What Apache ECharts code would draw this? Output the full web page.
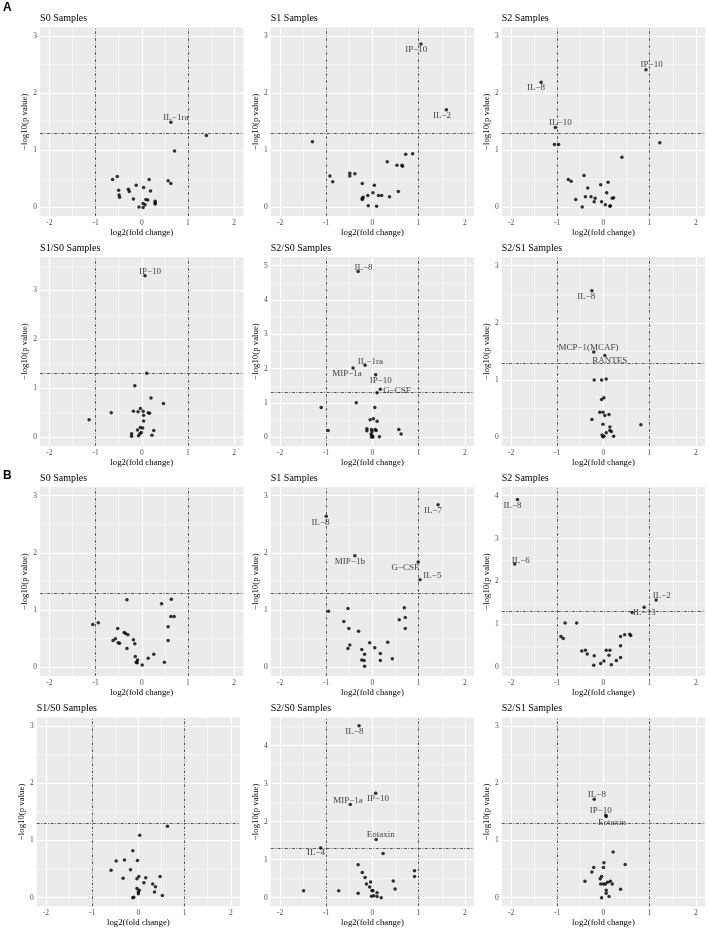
<!DOCTYPE html>
<html><head><meta charset="utf-8">
<script src="https://cdn.jsdelivr.net/npm/echarts@6/dist/echarts.min.js"></script>
<style>html,body{margin:0;padding:0;background:#fff}#c{width:709px;height:928px}</style>
</head><body><div id="c"></div>
<script>
// ---------------- data ----------------
const xTicks = [-2, -1, 0, 1, 2];
const yTicks3 = [0, 1, 2, 3];
const yTicks4 = [0, 1, 2, 3, 4];
const yTicks5 = [0, 1, 2, 3, 4, 5];
const pCut = 1.3;          // -log10(0.05)
const foldCuts = [-1, 1];

const panelTitles = ['S0 Samples','S1 Samples','S2 Samples','S1/S0 Samples','S2/S0 Samples','S2/S1 Samples',
                     'S0 Samples','S1 Samples','S2 Samples','S1/S0 Samples','S2/S0 Samples','S2/S1 Samples'];

// [log2(fold change), -log10(p value), label]
const A_S0 = [[0.63,1.49,'IL−1ra'],[1.40,1.26],[0.71,0.99],[-0.53,0.54],[-0.63,0.49],[0.16,0.49],[0.57,0.47],[0.63,0.42],[-0.12,0.39],[0.04,0.35],[-0.50,0.30],[-0.29,0.32],[-0.27,0.28],[0.19,0.29],[-0.49,0.22],[-0.48,0.18],[-0.18,0.15],[0.09,0.14],[0.13,0.13],[0.29,0.11],[0.29,0.08],[0.29,0.06],[0.03,0.07],[0.07,0.05],[-0.06,0.01],[0.03,0.00]];
const A_S1 = [[1.05,2.86,'IP−10'],[1.60,1.71,'IL−2'],[-1.30,1.15],[0.72,0.93],[0.87,0.94],[0.32,0.80],[0.53,0.74],[0.64,0.74],[0.65,0.72],[-0.92,0.55],[-0.86,0.45],[-0.49,0.60],[-0.49,0.55],[-0.38,0.59],[-0.22,0.42],[0.04,0.39],[0.56,0.28],[0.01,0.26],[-0.10,0.21],[0.13,0.21],[0.20,0.21],[0.37,0.19],[-0.20,0.18],[-0.22,0.16],[-0.22,0.14],[-0.09,0.03],[0.09,0.02]];
const A_S2 = [[0.92,2.41,'IP−10'],[-1.35,2.19,'IL−8'],[-1.04,1.40,'IL−10'],[-1.06,1.10],[-0.97,1.10],[1.22,1.13],[0.40,0.88],[-0.42,0.56],[-0.76,0.49],[-0.70,0.46],[0.10,0.44],[-0.06,0.40],[-0.34,0.34],[0.07,0.26],[-0.39,0.19],[-0.27,0.19],[-0.18,0.16],[0.22,0.17],[0.19,0.16],[-0.60,0.14],[-0.20,0.10],[-0.04,0.10],[0.04,0.05],[0.15,0.03],[0.14,0.02],[-0.46,0.01]];
const A_S1S0 = [[0.07,3.30,'IP−10'],[0.11,1.31],[-0.15,1.05],[0.20,0.80],[0.47,0.69],[-0.66,0.50],[-0.18,0.53],[-0.08,0.52],[-0.03,0.59],[0.03,0.53],[0.04,0.45],[0.14,0.50],[0.17,0.49],[-1.14,0.36],[0.04,0.33],[-0.03,0.20],[0.02,0.19],[0.26,0.14],[-0.09,0.15],[-0.22,0.07],[-0.22,0.02],[-0.04,0.07],[-0.01,0.10],[-0.07,0.03],[0.22,0.04]];
const A_S2S0 = [[-0.31,4.83,'IL−8'],[-0.16,2.10,'IL−1ra'],[-0.42,2.02,'MIP−1a'],[0.07,1.82,'IP−10'],[0.17,1.40,'G−CSF'],[0.10,1.30],[-0.35,1.01],[-1.11,0.87],[0.05,0.87],[-0.05,0.51],[0.02,0.54],[0.10,0.47],[-0.96,0.20],[-0.12,0.25],[-0.12,0.19],[-0.02,0.23],[-0.01,0.17],[0.06,0.23],[0.08,0.20],[0.57,0.23],[0.62,0.10],[-0.03,0.10],[-0.01,0.05],[0.01,0.01],[0.15,0.02],[-0.02,0.01]];
const A_S2S1 = [[-0.25,2.56,'IL−8'],[-0.21,1.49,'MCP−1(MCAF)'],[0.03,1.43,'RANTES'],[-0.20,1.00],[-0.04,1.00],[0.06,1.02],[0.01,0.69],[-0.04,0.66],[-0.08,0.44],[-0.01,0.44],[0.12,0.40],[0.03,0.38],[-0.25,0.31],[-0.01,0.23],[0.81,0.22],[0.14,0.18],[0.14,0.12],[0.17,0.10],[0.06,0.08],[-0.03,0.04],[0.01,0.02],[-0.01,0.01],[0.22,0.02]];
const B_S0 = [[-1.06,0.75],[-0.94,0.78],[-0.32,1.18],[0.43,1.11],[0.64,1.19],[0.63,0.89],[0.70,0.89],[0.57,0.71],[0.57,0.47],[-0.52,0.68],[-0.38,0.61],[-0.35,0.59],[-0.30,0.57],[-0.18,0.48],[-0.15,0.41],[-0.62,0.47],[-0.57,0.50],[-0.51,0.43],[-0.48,0.42],[-0.32,0.33],[-0.14,0.19],[-0.09,0.13],[-0.12,0.09],[-0.10,0.08],[0.14,0.16],[0.26,0.23],[0.49,0.09],[0.01,0.04]];
const B_S1 = [[1.42,2.84,'IL−7'],[-1.00,2.64,'IL−8'],[-0.38,1.95,'MIP−1b'],[0.99,1.84,'G−CSF'],[1.03,1.53,'IL−5'],[-0.95,0.98],[-0.53,1.03],[-0.62,0.80],[-0.51,0.68],[-0.30,0.63],[0.69,1.04],[0.71,0.87],[0.58,0.83],[0.71,0.68],[-0.06,0.43],[0.33,0.44],[-0.49,0.39],[-0.53,0.33],[0.05,0.34],[-0.23,0.31],[-0.17,0.23],[0.17,0.24],[0.43,0.15],[-0.23,0.13],[-0.18,0.12],[0.17,0.12],[-0.17,0.02]];
const B_S2 = [[-1.86,3.91,'IL−8'],[-1.92,2.41,'IL−6'],[1.14,1.57,'IL−2'],[0.88,1.40,'IL−13'],[0.62,1.28],[-0.83,1.03],[-0.58,1.03],[-0.92,0.72],[-0.87,0.67],[0.37,0.72],[0.46,0.76],[0.57,0.77],[0.59,0.74],[0.37,0.50],[-0.47,0.38],[-0.39,0.40],[-0.35,0.31],[0.06,0.40],[0.14,0.40],[0.12,0.28],[-0.20,0.27],[0.37,0.23],[0.28,0.16],[0.01,0.15],[-0.06,0.09],[-0.21,0.05],[0.17,0.06]];
const B_S1S0 = [[0.63,1.25],[0.03,1.09],[-0.12,0.82],[-0.48,0.64],[-0.30,0.66],[-0.02,0.65],[-0.17,0.49],[-0.59,0.48],[0.47,0.37],[0.16,0.35],[0.01,0.37],[-0.33,0.34],[-0.03,0.33],[0.12,0.26],[0.31,0.24],[0.37,0.19],[-0.03,0.16],[0.02,0.13],[0.35,0.10],[0.00,0.10],[0.00,0.07],[0.52,0.04],[-0.10,0.01],[-0.12,0.00]];
const B_S2S0 = [[-0.29,4.52,'IL−8'],[0.07,2.75,'IP−10'],[-0.48,2.45,'MIP−1a'],[0.08,1.53,'Eotaxin'],[-1.12,1.31,'IL−4'],[0.23,1.16],[-0.31,0.87],[-0.22,0.66],[-0.16,0.53],[0.91,0.71],[0.91,0.56],[0.45,0.44],[-0.04,0.41],[-0.13,0.36],[-0.06,0.28],[0.49,0.23],[-0.01,0.19],[0.01,0.18],[-1.49,0.18],[-0.73,0.18],[-0.31,0.12],[0.10,0.13],[-0.02,0.04],[0.03,0.05],[0.10,0.03],[0.19,0.00]];
const B_S2S1 = [[-0.20,1.72,'IL−8'],[0.05,1.44,'IP−10'],[0.06,1.42,'Eotaxin'],[0.21,0.80],[0.47,0.58],[0.01,0.61],[0.00,0.53],[-0.21,0.53],[-0.25,0.45],[-0.04,0.37],[-0.07,0.33],[-0.40,0.29],[0.15,0.29],[0.09,0.27],[0.04,0.24],[0.19,0.24],[-0.06,0.24],[0.00,0.24],[0.37,0.15],[0.06,0.13],[0.06,0.08],[0.12,0.02],[-0.04,0.00]];

const panelData = [A_S0, A_S1, A_S2, A_S1S0, A_S2S0, A_S2S1, B_S0, B_S1, B_S2, B_S1S0, B_S2S0, B_S2S1];
const panelYTicks = [yTicks3, yTicks3, yTicks3, yTicks3, yTicks5, yTicks3, yTicks3, yTicks3, yTicks4, yTicks3, yTicks4, yTicks3];

// ---------------- layout / style ----------------
const yRanges = [[-0.15,3.15],[-0.15,3.15],[-0.15,3.15],[-0.176,3.68],[-0.25,5.25],[-0.15,3.15],
                 [-0.15,3.15],[-0.15,3.15],[-0.2,4.2],[-0.15,3.15],[-0.226,4.74],[-0.15,3.15]];
const xRange = [-2.2, 2.2];
const colLeft = [40.1, 270.8, 501.8];
const rowTop = [27.3, 257.1, 487.1, 717.5];
const plotW = 203.3, plotH = 188.8;
// label offsets (px) for the repelled text labels
const labelOffsets = [
  {'IL−1ra':[5,-4.5]},
  {'IP−10':[-4.7,5.7],'IL−2':[-4.3,5.7]},
  {'IP−10':[5.7,-5],'IL−8':[-5,5.7],'IL−10':[5,-4.3]},
  {'IP−10':[5,-4.3]},
  {'IL−8':[5.3,-4.3],'IL−1ra':[5.3,-4],'MIP−1a':[-6,5.7],'IP−10':[5,5.3],'G−CSF':[16.7,1]},
  {'IL−8':[-5.7,6],'MCP−1(MCAF)':[-5.3,-4.7],'RANTES':[5,5.3]},
  {},
  {'IL−7':[-5,5.7],'IL−8':[-5.7,6],'MIP−1b':[-5,5.7],'G−CSF':[-13,5.3],'IL−5':[12.3,-3.7]},
  {'IL−8':[-5,5.7],'IL−6':[6,-3.7],'IL−2':[5.7,-4.3],'IL−13':[0.3,5.7]},
  {},
  {'IL−8':[-4.7,5.7],'IP−10':[2.3,5.7],'MIP−1a':[-2.3,-3.7],'Eotaxin':[4.7,-4.7],'IL−4':[-4.7,5]},
  {'IL−8':[2.7,-4.3],'IP−10':[-5,-4.3],'Eotaxin':[5.7,5.7]}
];
const SERIF = '"Liberation Serif", "DejaVu Serif", serif';

function mids(arr){ const m=[]; for(let k=0;k<arr.length-1;k++) m.push((arr[k]+arr[k+1])/2); return m; }

const option = {animation:false, title:[], grid:[], xAxis:[], yAxis:[], series:[], graphic:[
  {type:'text', left:3, top:2, style:{text:'A', font:'bold 12px "Liberation Sans", Arial, sans-serif', fill:'#000'}},
  {type:'text', left:3, top:470, style:{text:'B', font:'bold 12px "Liberation Sans", Arial, sans-serif', fill:'#000'}}
]};

panelData.forEach((pts, i) => {
  const r = Math.floor(i/3), c = i % 3;
  const left = (r === 3 && c === 0) ? 36.7 : colLeft[c];
  const top = rowTop[r];
  const yT = panelYTicks[i];
  option.grid.push({left:left, top:top, width:plotW, height:plotH, show:true, backgroundColor:'#EBEBEB', borderWidth:0, outerBoundsMode:'none'});
  option.title.push({text:panelTitles[i], left:left, top:top-14, padding:0,
    textStyle:{fontFamily:SERIF, fontSize:10, fontWeight:'normal', color:'#000'}});
  const tickStyle = {show:true, length:2, lineStyle:{color:'#333', width:0.6}};
  option.xAxis.push({gridIndex:i, type:'value', min:xRange[0], max:xRange[1],
    axisLine:{show:false}, splitLine:{show:false},
    axisTick:Object.assign({customValues:xTicks}, tickStyle),
    axisLabel:{customValues:xTicks, margin:3, fontSize:7.5, fontFamily:SERIF, color:'#4d4d4d'},
    name:'log2(fold change)', nameLocation:'middle', nameGap:11,
    nameTextStyle:{fontFamily:SERIF, fontSize:8.8, color:'#000'}});
  option.yAxis.push({gridIndex:i, type:'value', min:yRanges[i][0], max:yRanges[i][1],
    axisLine:{show:false}, splitLine:{show:false},
    axisTick:Object.assign({customValues:yT}, tickStyle),
    axisLabel:{customValues:yT, margin:3, fontSize:7.5, fontFamily:SERIF, color:'#4d4d4d'},
    name:'−log10(p value)', nameLocation:'middle', nameRotate:90, nameGap:7,
    nameTextStyle:{fontFamily:SERIF, fontSize:8.8, color:'#000'}});
  // background grid lines
  const gl = [];
  xTicks.forEach(v => gl.push({xAxis:v, lineStyle:{color:'#fff', width:1, type:'solid'}}));
  mids(xTicks).forEach(v => gl.push({xAxis:v, lineStyle:{color:'#fff', width:0.5, type:'solid'}}));
  yT.forEach(v => gl.push({yAxis:v, lineStyle:{color:'#fff', width:1, type:'solid'}}));
  const yMinor = mids(yT); yMinor.unshift(yT[0]-0.5); yMinor.push(yT[yT.length-1]+0.5);
  yMinor.filter(v => v > yRanges[i][0] && v < yRanges[i][1]).forEach(v => gl.push({yAxis:v, lineStyle:{color:'#fff', width:0.5, type:'solid'}}));
  option.series.push({type:'scatter', xAxisIndex:i, yAxisIndex:i, data:[], silent:true, z:1,
    markLine:{silent:true, symbol:['none','none'], z:1, animation:false, label:{show:false}, emphasis:{disabled:true}, data:gl}});
  // threshold lines
  const th = [];
  foldCuts.forEach(v => th.push({xAxis:v}));
  th.push({yAxis:pCut});
  option.series.push({type:'scatter', xAxisIndex:i, yAxisIndex:i, data:[], silent:true, z:2,
    markLine:{silent:true, symbol:['none','none'], z:2, animation:false, label:{show:false}, emphasis:{disabled:true},
      lineStyle:{color:'#222', width:0.75, type:[3,1.5,1,1.5]}, data:th}});
  // points
  const offs = labelOffsets[i];
  const items = pts.map(p => {
    const it = {value:[p[0], p[1]]};
    if (p[2]) it.label = {show:true, formatter:p[2], offset:offs[p[2]] || [0,-6]};
    return it;
  });
  option.series.push({type:'scatter', xAxisIndex:i, yAxisIndex:i, z:3, symbol:'circle', symbolSize:3.5,
    itemStyle:{color:'#000'}, silent:true,
    label:{show:false, position:'inside', align:'center', verticalAlign:'middle',
      fontFamily:SERIF, fontSize:9, color:'#111', textBorderWidth:0},
    data:items});
});

const chart = echarts.init(document.getElementById('c'), null, {renderer:'canvas'});
chart.setOption(option);
</script>
</body></html>
